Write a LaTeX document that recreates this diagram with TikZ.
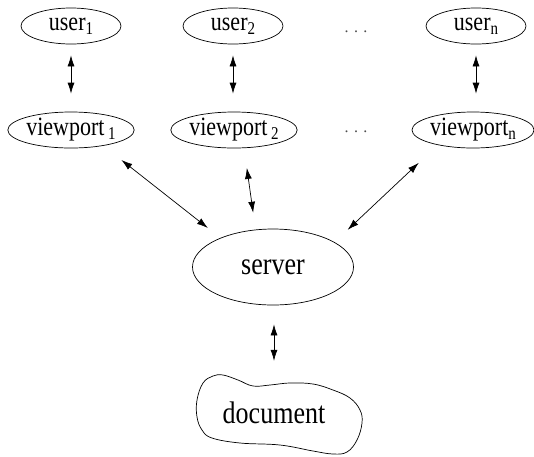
\documentclass[tikz,border=0pt]{standalone}
\usepackage{fontspec}
\usepackage{graphicx}
\setmainfont{Liberation Serif}
\usetikzlibrary{shapes.geometric,arrows.meta}
\tikzset{
  base/.style={draw, ellipse, line width=0.7pt, inner sep=0pt},
  small/.style={base, font=\fontsize{22}{26}\selectfont},
  big/.style={base, font=\fontsize{26}{30}\selectfont},
  usr/.style={small, minimum width=100pt, minimum height=36pt},
  vp/.style={small, minimum width=122pt, minimum height=36pt},
  link/.style={line width=0.7pt, {Latex[length=11pt,width=7pt]}-{Latex[length=11pt,width=7pt]}},
  dotsnode/.style={font=\fontsize{16}{18}\selectfont, text=black!70}
}
\newcommand{\sbs}[1]{\raisebox{-0.3ex}{\fontsize{15}{16}\selectfont #1}}
\newcommand{\tx}[1]{\scalebox{1}[1.2]{#1}}
\begin{document}
\begin{tikzpicture}[x=1pt,y=-1pt]
\useasboundingbox (0,0) rectangle (534,456);
\node[usr] (u1) at (71,26) {\tx{user\sbs{1}}};
\node[usr] (u2) at (233,26) {\tx{user\sbs{2}}};
\node[usr] (un) at (476,26) {\tx{user\sbs{n}}};
\node[vp] (v1) at (71,130) {\tx{viewport\,\sbs{1}}};
\node[vp] (v2) at (234,130) {\tx{viewport\,\sbs{2}}};
\node[vp] (vn) at (473,130) {\tx{viewport\sbs{n}}};
\node[dotsnode] (d1) at (356,32) {.\,\,.\,\,.};
\node[dotsnode] (d2) at (356,132) {.\,\,.\,\,.};
\node[big, minimum width=161pt, minimum height=76pt] (s) at (273,267) {\tx{server}};
\node[font=\fontsize{26}{30}\selectfont, inner sep=0pt, minimum height=70pt] (doc) at (274,413) {\tx{document}};
\draw[line width=0.7pt] plot[smooth cycle, tension=0.65] coordinates {
  (213,376) (203,383) (197,400) (197,417) (202,430) (212,438) (240,443)
  (280,445) (313,451) (333,454) (347,452) (357,440) (362,423) (360,410)
  (350,398) (333,390) (313,384) (290,383) (270,385) (253,386) (238,380) (223,375)};
\draw[link, shorten <=11pt, shorten >=18pt] (u1.south) -- (v1.north);
\draw[link, shorten <=11pt, shorten >=18pt] (u2.south) -- (v2.north -| u2.south);
\draw[link, shorten <=11pt, shorten >=18pt] (un.south) -- (vn.north -| un.south);
\draw[link, shorten <=23pt, shorten >=16pt] (v1.-26) -- (s.151);
\draw[link, shorten <=20pt, shorten >=17pt] (v2.-61) -- (s.115);
\draw[link, shorten <=26pt, shorten >=18pt] (vn.203) -- (s.22);
\draw[link, shorten <=19pt, shorten >=17pt] (s.south -| doc.north) -- (doc.north);
\end{tikzpicture}
\end{document}
